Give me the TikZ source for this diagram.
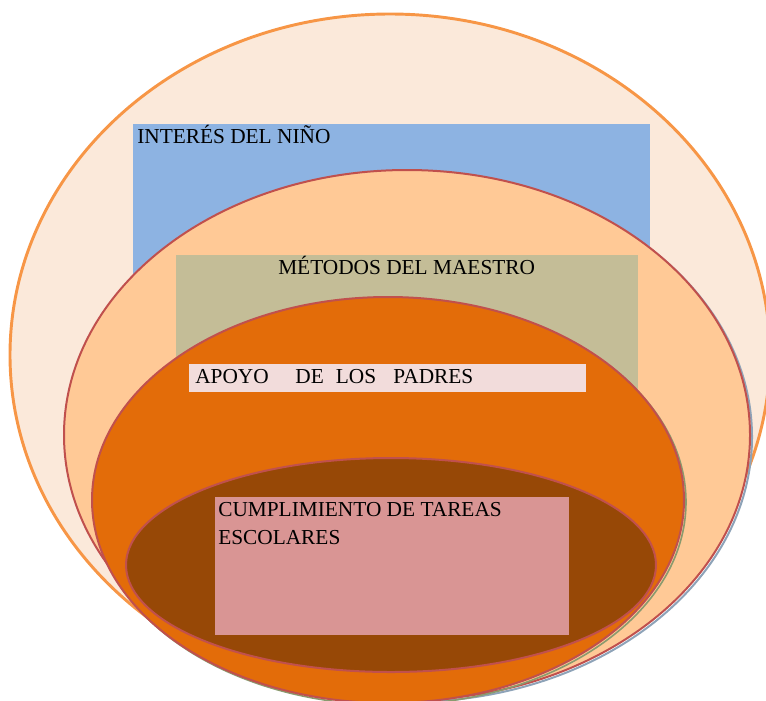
\documentclass[tikz,border=0pt]{standalone}
\usepackage{fontspec}
\setmainfont{Liberation Serif}
\definecolor{outerfill}{HTML}{FBE9DA}
\definecolor{outerline}{HTML}{F79646}
\definecolor{ringline}{HTML}{C0504D}
\definecolor{shadowblue}{HTML}{8EA3B8}
\definecolor{shadowgreen}{HTML}{8A9A6E}
\definecolor{ninoblue}{HTML}{8DB3E2}
\definecolor{maestrofill}{HTML}{FFC996}
\definecolor{maestrobox}{HTML}{C4BD97}
\definecolor{padresfill}{HTML}{E36C09}
\definecolor{padresbox}{HTML}{F2DCDB}
\definecolor{tareasfill}{HTML}{974806}
\definecolor{tareasbox}{HTML}{D99594}

\begin{document}
\begin{tikzpicture}[x=0.75pt,y=-0.75pt,
		ring/.style={draw=ringline,line width=1.5pt},
		label/.style={font=\fontsize{16}{21}\selectfont,inner sep=0pt,anchor=base west}]
		\clip (0,0) rectangle (766,700);
		% outer circle
		\draw[fill=outerfill,draw=outerline,line width=2.2pt] (390,355) ellipse [x radius=380,y radius=341];
		\fill[ninoblue] (133,124) rectangle (650,300);
		\node[label] (nino) at (137,143) {INTERÉS DEL NIÑO};
		% maestro
		\draw[shadowblue,line width=1.5pt] (409,437) ellipse [x radius=343,y radius=265];
		\draw[ring,fill=maestrofill] (407,435) ellipse [x radius=343,y radius=265];
		\fill[maestrobox] (176,255) rectangle (638,420);
		\node[label] (maestro) at (278,274) {MÉTODOS DEL MAESTRO};
		% padres
		\draw[shadowgreen,line width=1.2pt] (390,502) ellipse [x radius=296,y radius=203];
		\draw[ring,fill=padresfill] (388,500) ellipse [x radius=296,y radius=203];
		\fill[padresbox] (189,364) rectangle (586,392);
		\node[label] (padres) at (195,383) {APOYO\hspace{20pt}DE\hspace{9pt}LOS\hspace{13pt}PADRES};
		% tareas
		\draw[ring,fill=tareasfill] (391,565) ellipse [x radius=265,y radius=107];
		\fill[tareasbox] (215,497) rectangle (569,635);
		\node[label,align=left] (tareas) at (218,544) {CUMPLIMIENTO DE TAREAS\\ESCOLARES};
\end{tikzpicture}
\end{document}
